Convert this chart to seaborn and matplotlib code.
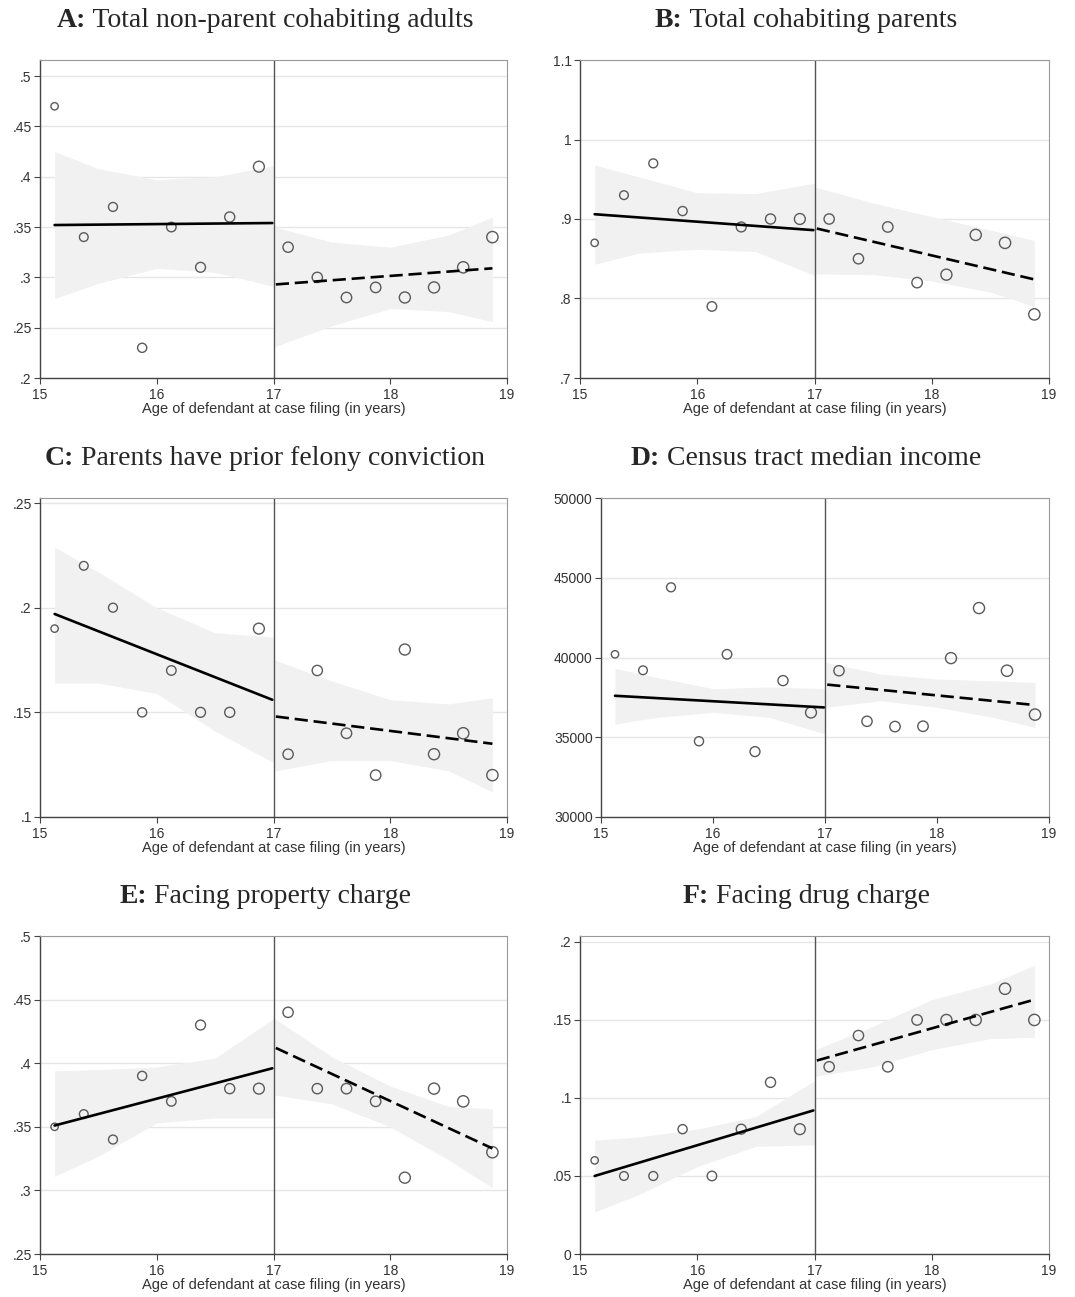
import numpy as np
import pandas as pd
import matplotlib
matplotlib.use("Agg")
import matplotlib.pyplot as plt
import seaborn as sns
from matplotlib.ticker import FuncFormatter

sns.set_theme(style="white")
plt.rcParams["font.family"] = ["Liberation Sans", "DejaVu Sans"]

# ---------------- data ----------------
ages = [15.125, 15.375, 15.625, 15.875, 16.125, 16.375, 16.625, 16.875,
        17.125, 17.375, 17.625, 17.875, 18.125, 18.375, 18.625, 18.875]
bin_weight = [0.6, 0.72, 0.74, 0.76, 0.8, 0.84, 0.86, 0.95,
              0.88, 0.88, 0.9, 0.9, 0.97, 0.98, 1.0, 1.0]
cutoff = 17

fit_x_left = [15.125, 16.99]
fit_x_right = [17.02, 18.875]
band_x_left = [15.125, 15.5, 16.0, 16.5, 17.0]
band_x_right = [17.01, 17.5, 18.0, 18.5, 18.875]

# A: Total non-parent cohabiting adults
a_points = [0.47, 0.34, 0.37, 0.23, 0.35, 0.31, 0.36, 0.41,
            0.33, 0.30, 0.28, 0.29, 0.28, 0.29, 0.31, 0.34]
a_fit_left = [0.352, 0.354]
a_fit_right = [0.293, 0.309]
a_band_left_hi = [0.425, 0.408, 0.397, 0.400, 0.411]
a_band_left_lo = [0.279, 0.294, 0.309, 0.305, 0.291]
a_band_right_hi = [0.350, 0.335, 0.330, 0.342, 0.360]
a_band_right_lo = [0.231, 0.252, 0.269, 0.266, 0.256]

# B: Total cohabiting parents
b_points = [0.87, 0.93, 0.97, 0.91, 0.79, 0.89, 0.90, 0.90,
            0.90, 0.85, 0.89, 0.82, 0.83, 0.88, 0.87, 0.78]
b_fit_left = [0.906, 0.886]
b_fit_right = [0.888, 0.824]
b_band_left_hi = [0.968, 0.953, 0.933, 0.932, 0.945]
b_band_left_lo = [0.843, 0.857, 0.862, 0.859, 0.829]
b_band_right_hi = [0.940, 0.920, 0.903, 0.886, 0.873]
b_band_right_lo = [0.831, 0.830, 0.822, 0.808, 0.790]

# C: Parents have prior felony conviction
c_points = [0.19, 0.22, 0.20, 0.15, 0.17, 0.15, 0.15, 0.19,
            0.13, 0.17, 0.14, 0.12, 0.18, 0.13, 0.14, 0.12]
c_fit_left = [0.197, 0.156]
c_fit_right = [0.148, 0.135]
c_band_left_hi = [0.229, 0.217, 0.200, 0.188, 0.186]
c_band_left_lo = [0.164, 0.164, 0.159, 0.141, 0.126]
c_band_right_hi = [0.175, 0.165, 0.156, 0.154, 0.157]
c_band_right_lo = [0.122, 0.127, 0.127, 0.122, 0.112]

# D: Census tract median income
d_points = [40200, 39200, 44400, 34750, 40200, 34100, 38550, 36550,
            39170, 36000, 35670, 35690, 39960, 43100, 39170, 36420]
d_fit_left = [37600, 36870]
d_fit_right = [38300, 37020]
d_band_left_hi = [39310, 38750, 38050, 38150, 38050]
d_band_left_lo = [35830, 36250, 36560, 36250, 35210]
d_band_right_hi = [39690, 38960, 38650, 38540, 38440]
d_band_right_lo = [36880, 37290, 36880, 36250, 35620]

# E: Facing property charge
e_points = [0.35, 0.36, 0.34, 0.39, 0.37, 0.43, 0.38, 0.38,
            0.44, 0.38, 0.38, 0.37, 0.31, 0.38, 0.37, 0.33]
e_fit_left = [0.351, 0.396]
e_fit_right = [0.412, 0.333]
e_band_left_hi = [0.394, 0.395, 0.397, 0.404, 0.435]
e_band_left_lo = [0.311, 0.327, 0.353, 0.357, 0.357]
e_band_right_hi = [0.435, 0.405, 0.382, 0.366, 0.364]
e_band_right_lo = [0.375, 0.368, 0.350, 0.324, 0.302]

# F: Facing drug charge
f_points = [0.06, 0.05, 0.05, 0.08, 0.05, 0.08, 0.11, 0.08,
            0.12, 0.14, 0.12, 0.15, 0.15, 0.15, 0.17, 0.15]
f_fit_left = [0.050, 0.092]
f_fit_right = [0.124, 0.163]
f_band_left_hi = [0.073, 0.075, 0.080, 0.088, 0.111]
f_band_left_lo = [0.027, 0.038, 0.056, 0.069, 0.070]
f_band_right_hi = [0.131, 0.146, 0.163, 0.173, 0.185]
f_band_right_lo = [0.114, 0.120, 0.131, 0.138, 0.139]

letters = ["A", "B", "C", "D", "E", "F"]
titles = ["Total non-parent cohabiting adults", "Total cohabiting parents",
          "Parents have prior felony conviction", "Census tract median income",
          "Facing property charge", "Facing drug charge"]
y_ticks = [[0.2, 0.25, 0.3, 0.35, 0.4, 0.45, 0.5],
           [0.7, 0.8, 0.9, 1.0, 1.1],
           [0.1, 0.15, 0.2, 0.25],
           [30000, 35000, 40000, 45000, 50000],
           [0.25, 0.3, 0.35, 0.4, 0.45, 0.5],
           [0, 0.05, 0.1, 0.15, 0.2]]
x_ticks = [15, 16, 17, 18, 19]
x_label = "Age of defendant at case filing (in years)"

panels = [
    (a_points, a_fit_left, a_fit_right, a_band_left_lo, a_band_left_hi, a_band_right_lo, a_band_right_hi),
    (b_points, b_fit_left, b_fit_right, b_band_left_lo, b_band_left_hi, b_band_right_lo, b_band_right_hi),
    (c_points, c_fit_left, c_fit_right, c_band_left_lo, c_band_left_hi, c_band_right_lo, c_band_right_hi),
    (d_points, d_fit_left, d_fit_right, d_band_left_lo, d_band_left_hi, d_band_right_lo, d_band_right_hi),
    (e_points, e_fit_left, e_fit_right, e_band_left_lo, e_band_left_hi, e_band_right_lo, e_band_right_hi),
    (f_points, f_fit_left, f_fit_right, f_band_left_lo, f_band_left_hi, f_band_right_lo, f_band_right_hi),
]

# ---------------- layout (pixels) ----------------
W, H = 1075, 1297
DPI = 100
fig = plt.figure(figsize=(W / DPI, H / DPI), dpi=DPI, facecolor="white")

# (left, right, top, bottom) in pixels
boxes = [(40, 507, 60, 378), (580, 1049, 60, 378),
         (40, 507, 498, 817), (601, 1049, 498, 817),
         (40, 507, 936, 1254), (580, 1049, 936, 1254)]
ylims = [(0.2, 0.516), (0.7, 1.1), (0.1, 0.2524), (30000, 50000), (0.25, 0.5), (0, 0.2038)]
title_cx = [265, 806, 265, 806, 265, 806]
title_base = [27, 27, 465, 465, 903, 903]


def stata_fmt(v, pos):
    s = f"{v:g}"
    if s.startswith("0."):
        s = s[1:]
    elif s.startswith("-0."):
        s = "-" + s[2:]
    return s


renderer = fig.canvas.get_renderer()
for i, (pts, fl, fr, bll, blh, brl, brh) in enumerate(panels):
    l, r, t, b = boxes[i]
    ax = fig.add_axes([l / W, 1 - b / H, (r - l) / W, (b - t) / H])
    ax.set_facecolor("white")

    # horizontal grid
    ax.set_axisbelow(True)
    for yv in y_ticks[i]:
        ax.axhline(yv, color="#e6e6e6", lw=1.0, zorder=0)

    # confidence bands
    ax.fill_between(band_x_left, bll, blh, color="#f1f1f1", lw=0, zorder=1)
    ax.fill_between(band_x_right, brl, brh, color="#f1f1f1", lw=0, zorder=1)

    # cutoff line
    ax.axvline(cutoff, color="#555555", lw=1.0, zorder=2)

    # points
    df = pd.DataFrame({"age": ages, "val": pts, "w": bin_weight})
    sns.scatterplot(data=df, x="age", y="val", size="w", sizes=(28, 66),
                    size_norm=(0.6, 1.0), facecolor="none", edgecolor="#5a5a5a",
                    linewidth=1.0, legend=False, ax=ax, zorder=3)

    # fitted lines
    sns.lineplot(x=fit_x_left, y=fl, color="black", lw=1.9, ax=ax, zorder=4)
    sns.lineplot(x=fit_x_right, y=fr, color="black", lw=1.9, ax=ax, zorder=4,
                 linestyle=(0, (5.0, 2.2)))

    ax.set_xlim(15, 19)
    ax.set_ylim(*ylims[i])
    ax.set_xticks(x_ticks)
    ax.set_yticks(y_ticks[i])
    ax.yaxis.set_major_formatter(FuncFormatter(stata_fmt))
    ax.xaxis.set_major_formatter(FuncFormatter(stata_fmt))
    ax.set_xlabel(x_label, fontsize=10.5, color="#333333", labelpad=0)
    ax.set_ylabel("")
    ax.tick_params(axis="x", direction="out", length=4.5, width=0.8,
                   color="#444444", labelsize=10, labelcolor="#333333", pad=3,
                   bottom=True)
    ax.tick_params(axis="y", direction="out", length=4.5, width=0.8,
                   color="#444444", labelsize=10, labelcolor="#333333", pad=1.5,
                   left=True)
    for side in ["left", "bottom"]:
        ax.spines[side].set_color("#444444")
        ax.spines[side].set_linewidth(1.0)
    for side in ["top", "right"]:
        ax.spines[side].set_color("#999999")
        ax.spines[side].set_linewidth(0.8)

    # title: bold letter + regular text, centred
    fy = 1 - title_base[i] / H
    t1 = fig.text(0, fy, letters[i] + ":", fontsize=20, fontweight="bold",
                  family=["Liberation Serif", "DejaVu Serif"], va="baseline", ha="left")
    t2 = fig.text(0, fy, " " + titles[i], fontsize=20,
                  family=["Liberation Serif", "DejaVu Serif"], va="baseline", ha="left")
    w1 = t1.get_window_extent(renderer).width
    w2 = t2.get_window_extent(renderer).width
    x0 = title_cx[i] - (w1 + w2) / 2
    t1.set_x(x0 / W)
    t2.set_x((x0 + w1) / W)

fig.savefig("out.png", dpi=DPI, facecolor="white")
